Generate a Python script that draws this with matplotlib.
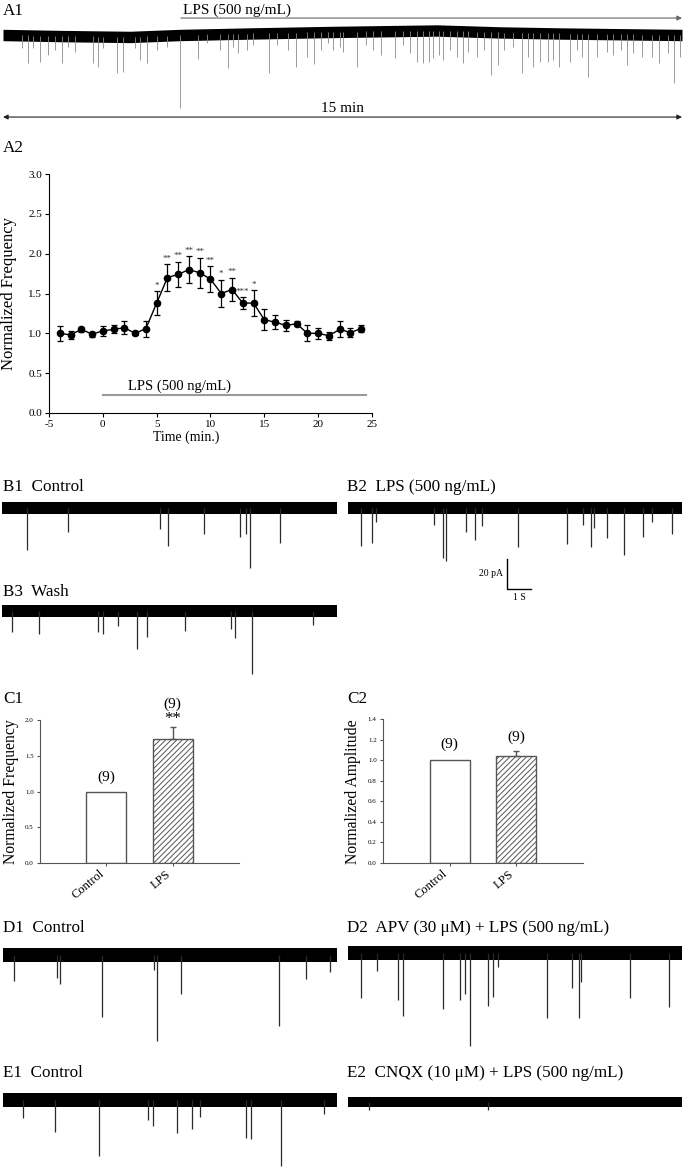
import matplotlib
matplotlib.use('Agg')
import matplotlib.pyplot as plt
import numpy as np

plt.rcParams['font.family'] = ['Liberation Serif', 'DejaVu Serif']
plt.rcParams['hatch.linewidth'] = 0.7
plt.rcParams['axes.unicode_minus'] = False

# ---- A1: 15 min recording (time in min, level in pA) ----
a1_base_t = [0, 1.26, 2.81, 3.91, 5.46, 7.22, 9.59, 10.98, 12.30, 13.63, 15]
a1_base_v = [0, -0.7, -1.3, 0, 1.0, 2.0, 3.0, 1.7, 1.0, 0.5, 0]
a1_ev_t = [0.42, 0.55, 0.66, 0.82, 0.99, 1.15, 1.30, 1.44, 1.59, 1.99, 2.10, 2.21,
           2.52, 2.65, 2.92, 3.03, 3.18, 3.40, 3.62, 3.91, 4.31, 4.51, 4.79, 4.97,
           5.08, 5.19, 5.39, 5.52, 5.88, 6.05, 6.30, 6.47, 6.72, 6.87, 7.02, 7.18,
           7.29, 7.44, 7.51, 7.82, 8.02, 8.17, 8.35, 8.66, 8.84, 8.99, 9.15, 9.28,
           9.41, 9.50, 9.63, 9.72, 9.87, 10.03, 10.16, 10.27, 10.47, 10.63, 10.78,
           10.93, 11.07, 11.27, 11.46, 11.60, 11.71, 11.86, 12.04, 12.15, 12.28,
           12.52, 12.68, 12.79, 12.92, 13.12, 13.34, 13.47, 13.65, 13.78, 13.92,
           14.12, 14.34, 14.49, 14.69, 14.82, 14.95]
a1_ev_peak = [-8.7, -18.7, -8.7, -18.0, -13.3, -10.0, -18.7, -8.0, -11.3, -18.7, -21.3, -8.7,
              -25.3, -24.7, -8.7, -16.7, -18.7, -10.0, -8.0, -48.7, -16.0, -5.3, -10.0, -22.0,
              -8.0, -12.0, -10.0, -6.7, -25.3, -6.7, -10.0, -21.3, -14.7, -19.3, -10.0, -5.3,
              -10.0, -8.0, -11.3, -21.3, -6.7, -10.0, -13.3, -15.3, -6.7, -12.0, -18.0, -18.7,
              -18.0, -15.3, -13.3, -16.7, -10.0, -14.7, -18.7, -11.3, -14.7, -10.0, -26.7,
              -20.0, -10.0, -8.0, -25.3, -14.7, -21.3, -18.0, -18.0, -16.7, -21.3,
              -18.0, -10.0, -14.7, -28.0, -14.7, -11.3, -13.3, -10.0, -20.0, -12.0,
              -14.7, -14.7, -18.7, -12.0, -32.0, -14.7]
a1_lps_start = 3.93
a1_total_min = 15

# ---- A2: time course ----
a2_time = np.arange(-4, 25)
a2_freq = [1.00, 0.98, 1.05, 0.99, 1.03, 1.05, 1.07, 1.00, 1.06, 1.38, 1.70, 1.74, 1.80, 1.76,
           1.68, 1.50, 1.55, 1.38, 1.38, 1.17, 1.14, 1.10, 1.12, 1.00, 1.00, 0.97, 1.05, 1.01, 1.06]
a2_err = [0.09, 0.05, 0.03, 0.03, 0.06, 0.05, 0.08, 0.02, 0.10, 0.15, 0.17, 0.16, 0.17, 0.19,
          0.16, 0.17, 0.15, 0.07, 0.16, 0.13, 0.09, 0.07, 0.03, 0.10, 0.07, 0.05, 0.10, 0.06, 0.04]
a2_stars = {5: '*', 6: '**', 7: '**', 8: '**', 9: '**', 10: '**', 11: '*', 12: '**', 13: '***', 14: '*'}
a2_lps = [0, 24.4]

# ---- sample traces (time in s, amplitude in pA) ----
b1_t = [1.0, 2.64, 6.32, 6.64, 8.08, 9.52, 9.76, 9.92, 11.12]
b1_amp = [28, 16, 14, 25, 17, 19, 17, 40, 23]
b2_t = [0.52, 0.96, 1.12, 3.44, 3.80, 3.92, 4.72, 5.08, 5.36, 6.84, 8.80, 9.44, 9.76, 9.88,
        10.40, 11.08, 11.84, 12.20, 13.00]
b2_amp = [25, 23, 9, 11, 33, 35, 16, 21, 12, 26, 24, 11, 26, 13, 20, 31, 19, 9, 17]
b3_t = [0.40, 1.48, 3.84, 4.04, 4.64, 5.40, 5.80, 7.32, 9.16, 9.32, 10.00, 12.44]
b3_amp = [14, 15, 14, 15, 10, 25, 17, 13, 12, 18, 42, 9]
d1_t = [0.44, 2.16, 2.28, 3.96, 6.04, 6.16, 7.16, 11.08, 12.16, 13.12]
d1_amp = [17, 15, 19, 41, 10, 57, 26, 47, 16, 11]
d2_t = [0.52, 1.16, 2.0, 2.2, 3.8, 4.48, 4.68, 4.88, 5.6, 5.8, 6.0, 8.0, 9.0, 9.28, 9.36,
        11.32, 12.88]
d2_amp = [30, 12, 31, 42, 37, 31, 27, 62, 35, 29, 9, 43, 23, 43, 19, 30, 36]
e1_t = [0.8, 2.08, 3.84, 5.8, 6.0, 7.0, 7.6, 7.92, 9.76, 9.96, 11.16, 12.88]
e1_amp = [12, 21, 37, 13, 17, 22, 19, 11, 25, 26, 44, 9]
e2_t = [0.84, 5.6]
e2_amp = [5, 5]
trace_len_s = 13.4
scale_pa = 20
scale_s = 1

# ---- C: summary bars ----
groups = ['Control', 'LPS']
c1_mean = [1.0, 1.74]
c1_err = [0, 0.16]
c2_mean = [1.0, 1.04]
c2_err = [0, 0.05]
n_cells = ['(9)', '(9)']

W, H = 685, 1167
PX_PA = 1.5
fig = plt.figure(figsize=(W / 100, H / 100), dpi=100)


def px_axes(x0, y0, x1, y1):
    return fig.add_axes([x0 / W, 1 - y1 / H, (x1 - x0) / W, (y1 - y0) / H])


def ftext(x, y, s, **kw):
    fig.text(x / W, 1 - y / H, s, **kw)


def trace(x0, x1, ybase, tmax, bt, bv, ev_t, ev_lo, half, color='#2a2a2a', lw=0.9,
          above=20, below=100):
    ax = px_axes(x0, ybase - above, x1, ybase + below)
    ax.set_xlim(0, tmax)
    ax.set_ylim(-below / PX_PA, above / PX_PA)
    ax.axis('off')
    bt = np.array(bt, float)
    bv = np.array(bv, float)
    ax.fill_between(bt, bv - half, bv + half, color='black', lw=0)
    ev_t = np.array(ev_t, float)
    b_at = np.interp(ev_t, bt, bv)
    ax.vlines(ev_t, b_at, ev_lo, color=color, lw=lw)
    return ax


LBL = 12.3

# A1
ftext(3, 11, 'A1', fontsize=LBL, va='center')
axa1 = trace(3, 682, 35, a1_total_min, a1_base_t, a1_base_v, a1_ev_t, a1_ev_peak, 3.8,
             color='#8a8a8a', lw=0.6, above=35, below=90)
axa1.annotate('', xy=(a1_total_min, 11.3), xytext=(a1_lps_start, 11.3),
              arrowprops=dict(arrowstyle='-|>', color='#666666', lw=0.8, mutation_scale=7,
                              shrinkA=0, shrinkB=0))
axa1.text(a1_lps_start + 0.05, 12.3, 'LPS (500 ng/mL)', fontsize=11, va='bottom', ha='left')
axa1.annotate('', xy=(a1_total_min, -54.7), xytext=(0, -54.7),
              arrowprops=dict(arrowstyle='<|-|>', color='#222222', lw=0.8, mutation_scale=7,
                              shrinkA=0, shrinkB=0))
axa1.text(a1_total_min / 2, -53.5, '15 min', fontsize=11, ha='center', va='bottom')

# A2
ftext(3, 148, 'A2', fontsize=LBL, va='center')
ax2 = px_axes(49, 174, 372, 413)
ax2.errorbar(a2_time, a2_freq, yerr=a2_err, fmt='-o', color='black', ms=4.5, lw=1,
             elinewidth=0.9, capsize=2.5, capthick=0.9)
for t, s in a2_stars.items():
    i = list(a2_time).index(t)
    ax2.text(t, a2_freq[i] + a2_err[i] + 0.02, s, fontsize=6.5, ha='center', va='bottom',
             color='#333333')
ax2.plot(a2_lps, [0.22, 0.22], color='#9a9a9a', lw=1.5)
ax2.text(2.3, 0.25, 'LPS (500 ng/mL)', fontsize=10.5, va='bottom', ha='left')
ax2.set_xlim(-5, 25)
ax2.set_ylim(0, 3)
ax2.set_xticks(np.arange(-5, 30, 5))
ax2.set_yticks(np.arange(0, 3.01, 0.5))
ax2.set_yticklabels(['%.1f' % v for v in np.arange(0, 3.01, 0.5)])
ax2.spines['top'].set_visible(False)
ax2.spines['right'].set_visible(False)
ax2.tick_params(direction='out', length=3, width=0.8, labelsize=8, pad=2)
ftext(9, 294, 'Normalized Frequency', fontsize=12, rotation=90, ha='center', va='center')
ftext(186, 437, 'Time (min.)', fontsize=10, ha='center', va='center')

# B
ftext(3, 487, 'B1  Control', fontsize=LBL, va='center')
ftext(347, 487, 'B2  LPS (500 ng/mL)', fontsize=LBL, va='center')
ftext(3, 592, 'B3  Wash', fontsize=LBL, va='center')
trace(2, 337, 508, trace_len_s, [0, trace_len_s], [0, 0], b1_t, -np.array(b1_amp), 3.7)
axb2 = trace(348, 682, 508, trace_len_s, [0, trace_len_s], [0, 0], b2_t, -np.array(b2_amp), 3.7)
trace(2, 337, 611, trace_len_s, [0, trace_len_s], [0, 0], b3_t, -np.array(b3_amp), 3.7)
sx, sy = 6.36, -54
axb2.plot([sx, sx, sx + scale_s], [sy + scale_pa, sy, sy], color='black', lw=1)
axb2.text(sx - 0.15, sy + scale_pa / 2, '%d pA' % scale_pa, fontsize=7, ha='right', va='center')
axb2.text(sx + scale_s / 2, sy - 3, '%d S' % scale_s, fontsize=7, ha='center', va='top')

# C1 / C2
def bars(ax, mean, err, ymax, step, labels_y):
    x = np.arange(1, len(groups) + 1)
    bc = ax.bar(x, mean, width=0.6, color='white', edgecolor='#555555', lw=1)
    bc[1].set_hatch('//////')
    ax.errorbar(x[1], mean[1], yerr=[[0], [err[1]]], color='#555555', lw=1, capsize=2.5,
                capthick=1)
    ax.set_xlim(0, 3)
    ax.set_ylim(0, ymax)
    ax.set_yticks(np.arange(0, ymax + 1e-6, step))
    ax.set_yticklabels(['%.1f' % v for v in np.arange(0, ymax + 1e-6, step)])
    ax.set_xticks(x)
    ax.set_xticklabels(groups, rotation=40, ha='right', fontsize=9)
    for s in ['top', 'right']:
        ax.spines[s].set_visible(False)
    for s in ['left', 'bottom']:
        ax.spines[s].set_color('#555555')
    ax.tick_params(axis='y', direction='out', length=2.5, labelsize=5, pad=2, color='#555555')
    ax.tick_params(axis='x', direction='out', length=2.5, pad=1, color='#555555')
    for xi, lbl, ly in zip(x, n_cells, labels_y):
        ax.text(xi, ly, lbl, fontsize=11, ha='center', va='center')


ftext(3, 699, 'C1', fontsize=LBL, va='center')
axc1 = px_axes(40, 720, 239, 863)
bars(axc1, c1_mean, c1_err, 2.0, 0.5, [1.2, 2.22])
axc1.text(2, 2.01, '**', fontsize=12, ha='center', va='center')
ftext(11, 792, 'Normalized Frequency', fontsize=11.3, rotation=90, ha='center', va='center')

ftext(347, 699, 'C2', fontsize=LBL, va='center')
axc2 = px_axes(383, 719, 583, 863)
bars(axc2, c2_mean, c2_err, 1.4, 0.2, [1.15, 1.22])
ftext(353, 792, 'Normalized Amplitude', fontsize=11.3, rotation=90, ha='center', va='center')

# D
ftext(3, 928, 'D1  Control', fontsize=LBL, va='center')
ftext(347, 928, 'D2  APV (30 \u03bcM) + LPS (500 ng/mL)', fontsize=LBL, va='center')
trace(3, 337, 955, trace_len_s, [0, trace_len_s], [0, 0], d1_t, -np.array(d1_amp), 4.7)
trace(348, 682, 953, trace_len_s, [0, trace_len_s], [0, 0], d2_t, -np.array(d2_amp), 4.7)

# E
ftext(3, 1073, 'E1  Control', fontsize=LBL, va='center')
ftext(347, 1073, 'E2  CNQX (10 \u03bcM) + LPS (500 ng/mL)', fontsize=LBL, va='center')
trace(3, 337, 1100, trace_len_s, [0, trace_len_s], [0, 0], e1_t, -np.array(e1_amp), 4.7,
      below=67)
trace(348, 682, 1102, trace_len_s, [0, trace_len_s], [0, 0], e2_t, -np.array(e2_amp), 3.3,
      below=65)

fig.savefig('out.png', dpi=100)
